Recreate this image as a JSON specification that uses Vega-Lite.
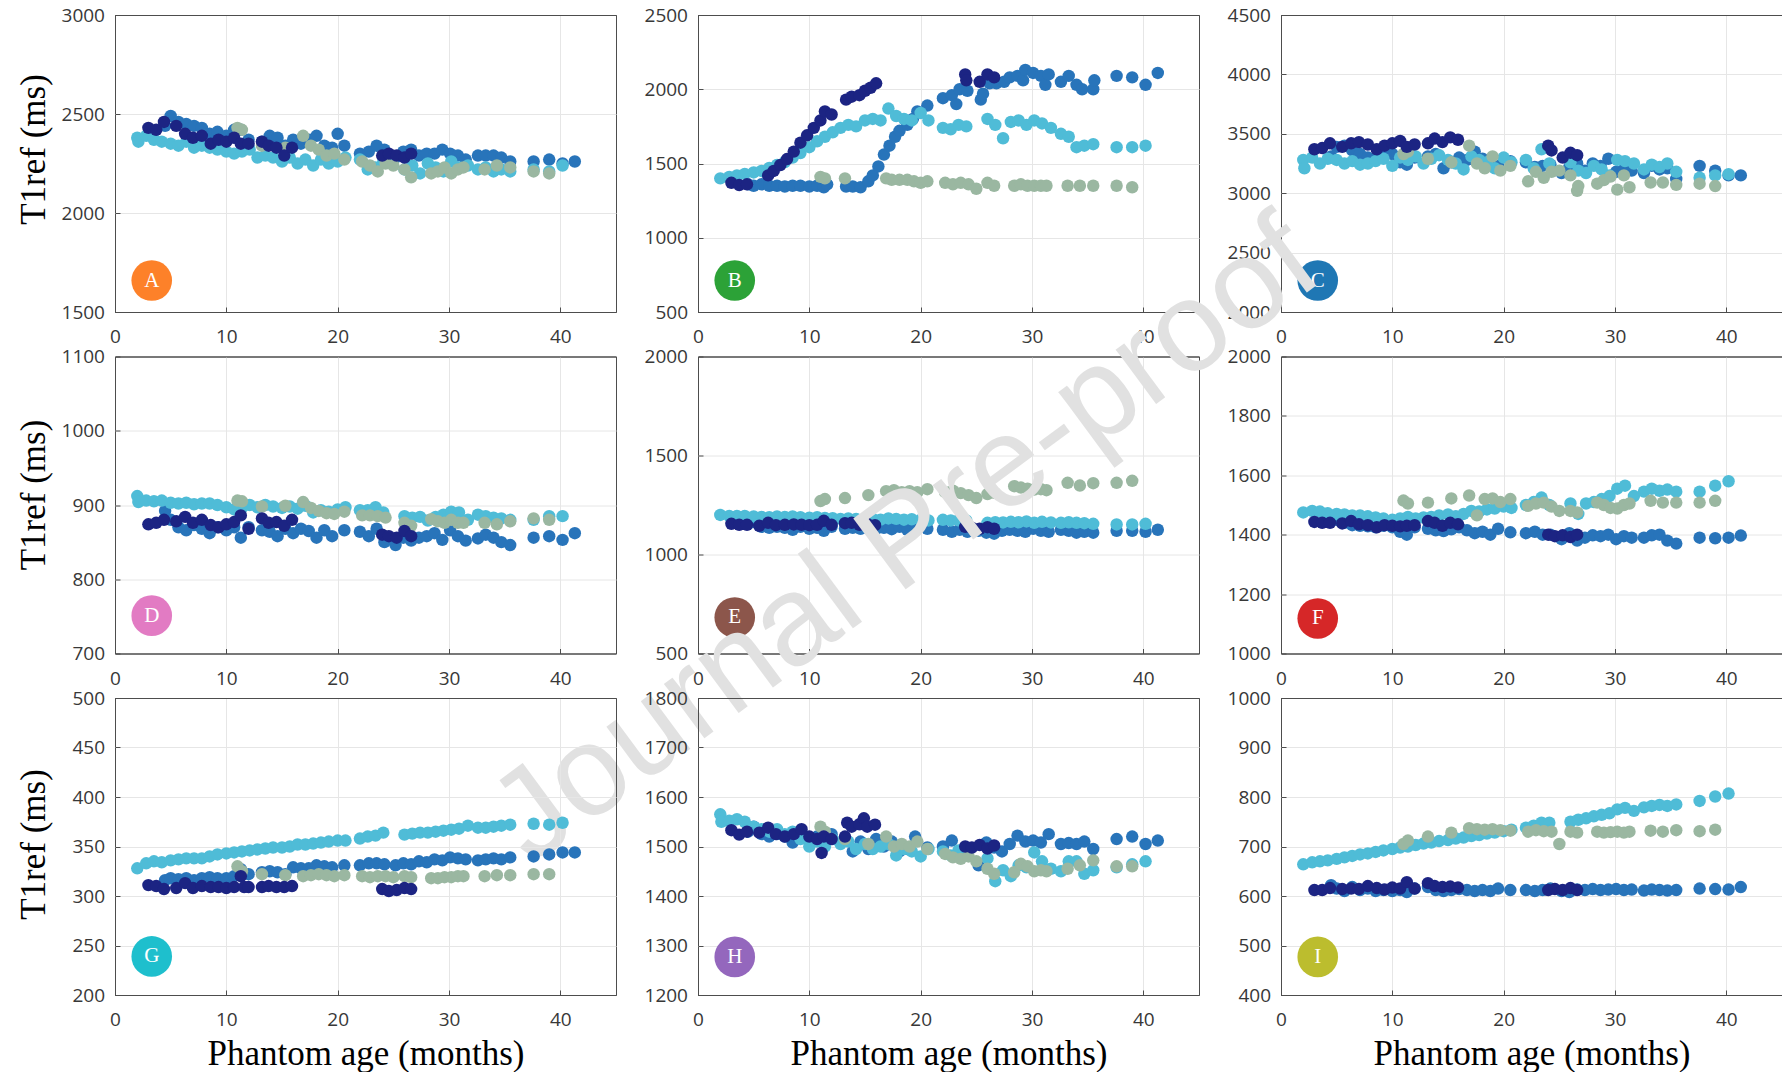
{
"$schema": "https://vega.github.io/schema/vega-lite/v6.json",
"background": "white",
"padding": {"left": 16, "top": 5, "right": 0, "bottom": 0},
"datasets": {
"A": [
{"s":2,"x":4.5,"y":2440},{"s":2,"x":5.0,"y":2490},{"s":2,"x":5.7,"y":2460},{"s":2,"x":6.4,"y":2450},{"s":2,"x":7.1,"y":2440},{"s":2,"x":7.8,"y":2430},{"s":2,"x":8.5,"y":2400},{"s":2,"x":9.2,"y":2410},{"s":2,"x":10.0,"y":2390},{"s":2,"x":10.7,"y":2420},{"s":2,"x":11.3,"y":2420},{"s":2,"x":12.0,"y":2370},{"s":2,"x":13.2,"y":2360},{"s":2,"x":13.9,"y":2390},{"s":2,"x":14.6,"y":2380},{"s":2,"x":15.3,"y":2340},{"s":2,"x":16.0,"y":2370},{"s":2,"x":16.7,"y":2350},{"s":2,"x":17.4,"y":2370},{"s":2,"x":18.1,"y":2390},{"s":2,"x":18.8,"y":2340},{"s":2,"x":19.5,"y":2330},{"s":2,"x":20.0,"y":2400},{"s":2,"x":20.6,"y":2340},{"s":2,"x":22.0,"y":2300},{"s":2,"x":22.8,"y":2310},{"s":2,"x":23.5,"y":2340},{"s":2,"x":24.2,"y":2320},{"s":2,"x":25.2,"y":2280},{"s":2,"x":25.9,"y":2310},{"s":2,"x":26.6,"y":2320},{"s":2,"x":27.3,"y":2290},{"s":2,"x":28.0,"y":2300},{"s":2,"x":28.7,"y":2300},{"s":2,"x":29.4,"y":2320},{"s":2,"x":30.1,"y":2300},{"s":2,"x":30.8,"y":2290},{"s":2,"x":31.5,"y":2270},{"s":2,"x":32.6,"y":2290},{"s":2,"x":33.3,"y":2290},{"s":2,"x":34.0,"y":2290},{"s":2,"x":34.7,"y":2280},{"s":2,"x":35.5,"y":2260},{"s":2,"x":37.6,"y":2260},{"s":2,"x":39.0,"y":2270},{"s":2,"x":40.2,"y":2250},{"s":2,"x":41.3,"y":2260},
{"s":3,"x":2.0,"y":2380},{"s":3,"x":2.1,"y":2360},{"s":3,"x":2.8,"y":2390},{"s":3,"x":3.5,"y":2370},{"s":3,"x":4.2,"y":2360},{"s":3,"x":5.0,"y":2350},{"s":3,"x":5.7,"y":2340},{"s":3,"x":6.4,"y":2360},{"s":3,"x":7.1,"y":2330},{"s":3,"x":7.8,"y":2340},{"s":3,"x":8.5,"y":2330},{"s":3,"x":9.2,"y":2320},{"s":3,"x":10.0,"y":2310},{"s":3,"x":10.7,"y":2300},{"s":3,"x":11.4,"y":2310},{"s":3,"x":12.1,"y":2320},{"s":3,"x":12.8,"y":2280},{"s":3,"x":13.5,"y":2290},{"s":3,"x":14.2,"y":2280},{"s":3,"x":15.0,"y":2260},{"s":3,"x":15.7,"y":2280},{"s":3,"x":16.4,"y":2250},{"s":3,"x":17.1,"y":2270},{"s":3,"x":17.8,"y":2240},{"s":3,"x":18.5,"y":2270},{"s":3,"x":19.2,"y":2250},{"s":3,"x":20.0,"y":2260},{"s":3,"x":20.7,"y":2280},{"s":3,"x":22.0,"y":2270},{"s":3,"x":22.7,"y":2220},{"s":3,"x":23.4,"y":2230},{"s":3,"x":24.1,"y":2260},{"s":3,"x":26.0,"y":2220},{"s":3,"x":26.7,"y":2240},{"s":3,"x":27.4,"y":2200},{"s":3,"x":28.1,"y":2250},{"s":3,"x":28.8,"y":2230},{"s":3,"x":29.5,"y":2210},{"s":3,"x":30.2,"y":2260},{"s":3,"x":30.9,"y":2230},{"s":3,"x":31.7,"y":2240},{"s":3,"x":32.6,"y":2220},{"s":3,"x":33.3,"y":2230},{"s":3,"x":34.0,"y":2210},{"s":3,"x":34.7,"y":2220},{"s":3,"x":35.5,"y":2210},{"s":3,"x":37.6,"y":2220},{"s":3,"x":39.0,"y":2210},{"s":3,"x":40.2,"y":2240},
{"s":4,"x":11.0,"y":2430},{"s":4,"x":11.4,"y":2420},{"s":4,"x":13.2,"y":2340},{"s":4,"x":15.3,"y":2330},{"s":4,"x":16.9,"y":2390},{"s":4,"x":17.6,"y":2340},{"s":4,"x":18.3,"y":2320},{"s":4,"x":19.0,"y":2290},{"s":4,"x":19.7,"y":2300},{"s":4,"x":20.6,"y":2270},{"s":4,"x":22.2,"y":2260},{"s":4,"x":22.9,"y":2240},{"s":4,"x":23.6,"y":2210},{"s":4,"x":24.3,"y":2250},{"s":4,"x":25.0,"y":2240},{"s":4,"x":26.0,"y":2220},{"s":4,"x":26.6,"y":2180},{"s":4,"x":28.4,"y":2200},{"s":4,"x":29.0,"y":2210},{"s":4,"x":29.6,"y":2230},{"s":4,"x":30.2,"y":2200},{"s":4,"x":30.8,"y":2220},{"s":4,"x":31.3,"y":2230},{"s":4,"x":33.2,"y":2220},{"s":4,"x":34.3,"y":2240},{"s":4,"x":35.5,"y":2230},{"s":4,"x":37.6,"y":2210},{"s":4,"x":39.0,"y":2200},
{"s":1,"x":3.0,"y":2430},{"s":1,"x":3.7,"y":2420},{"s":1,"x":4.4,"y":2460},{"s":1,"x":5.5,"y":2440},{"s":1,"x":6.3,"y":2400},{"s":1,"x":7.0,"y":2380},{"s":1,"x":7.8,"y":2390},{"s":1,"x":8.6,"y":2350},{"s":1,"x":9.3,"y":2370},{"s":1,"x":10.0,"y":2360},{"s":1,"x":10.7,"y":2380},{"s":1,"x":11.3,"y":2350},{"s":1,"x":12.0,"y":2350},{"s":1,"x":13.2,"y":2360},{"s":1,"x":13.8,"y":2340},{"s":1,"x":14.5,"y":2330},{"s":1,"x":15.2,"y":2290},{"s":1,"x":15.9,"y":2330},{"s":1,"x":24.0,"y":2290},{"s":1,"x":24.6,"y":2300},{"s":1,"x":25.3,"y":2290},{"s":1,"x":26.0,"y":2280},{"s":1,"x":26.6,"y":2300}
],
"B": [
{"s":2,"x":4.5,"y":1360},{"s":2,"x":5.0,"y":1350},{"s":2,"x":5.7,"y":1360},{"s":2,"x":6.4,"y":1350},{"s":2,"x":7.1,"y":1350},{"s":2,"x":7.8,"y":1345},{"s":2,"x":8.5,"y":1350},{"s":2,"x":9.2,"y":1350},{"s":2,"x":10.0,"y":1345},{"s":2,"x":10.7,"y":1350},{"s":2,"x":11.3,"y":1340},{"s":2,"x":11.6,"y":1360},{"s":2,"x":13.3,"y":1345},{"s":2,"x":13.9,"y":1345},{"s":2,"x":14.6,"y":1340},{"s":2,"x":15.3,"y":1380},{"s":2,"x":15.7,"y":1420},{"s":2,"x":16.2,"y":1480},{"s":2,"x":16.7,"y":1560},{"s":2,"x":17.2,"y":1620},{"s":2,"x":17.7,"y":1680},{"s":2,"x":18.1,"y":1720},{"s":2,"x":18.8,"y":1760},{"s":2,"x":19.3,"y":1800},{"s":2,"x":19.7,"y":1850},{"s":2,"x":20.6,"y":1890},{"s":2,"x":22.0,"y":1940},{"s":2,"x":22.8,"y":1960},{"s":2,"x":23.2,"y":1900},{"s":2,"x":23.5,"y":2000},{"s":2,"x":24.2,"y":1990},{"s":2,"x":25.4,"y":1930},{"s":2,"x":25.6,"y":1970},{"s":2,"x":26.2,"y":2040},{"s":2,"x":26.8,"y":2040},{"s":2,"x":27.5,"y":2050},{"s":2,"x":28.0,"y":2080},{"s":2,"x":28.7,"y":2090},{"s":2,"x":29.2,"y":2060},{"s":2,"x":29.4,"y":2130},{"s":2,"x":30.1,"y":2110},{"s":2,"x":30.8,"y":2090},{"s":2,"x":31.2,"y":2030},{"s":2,"x":31.5,"y":2100},{"s":2,"x":32.6,"y":2050},{"s":2,"x":33.3,"y":2090},{"s":2,"x":34.0,"y":2030},{"s":2,"x":34.5,"y":2000},{"s":2,"x":35.5,"y":2000},{"s":2,"x":35.6,"y":2060},{"s":2,"x":37.6,"y":2090},{"s":2,"x":39.0,"y":2080},{"s":2,"x":40.2,"y":2030},{"s":2,"x":41.3,"y":2110},
{"s":3,"x":2.0,"y":1400},{"s":3,"x":2.8,"y":1410},{"s":3,"x":3.5,"y":1420},{"s":3,"x":4.2,"y":1430},{"s":3,"x":5.0,"y":1440},{"s":3,"x":5.7,"y":1450},{"s":3,"x":6.4,"y":1470},{"s":3,"x":7.1,"y":1490},{"s":3,"x":7.8,"y":1510},{"s":3,"x":8.5,"y":1540},{"s":3,"x":9.2,"y":1570},{"s":3,"x":10.0,"y":1610},{"s":3,"x":10.7,"y":1650},{"s":3,"x":11.4,"y":1680},{"s":3,"x":12.1,"y":1710},{"s":3,"x":12.8,"y":1740},{"s":3,"x":13.5,"y":1760},{"s":3,"x":14.2,"y":1750},{"s":3,"x":15.0,"y":1790},{"s":3,"x":15.7,"y":1800},{"s":3,"x":16.4,"y":1790},{"s":3,"x":17.1,"y":1870},{"s":3,"x":17.8,"y":1820},{"s":3,"x":18.5,"y":1800},{"s":3,"x":19.2,"y":1790},{"s":3,"x":20.0,"y":1840},{"s":3,"x":20.7,"y":1790},{"s":3,"x":22.0,"y":1740},{"s":3,"x":22.7,"y":1730},{"s":3,"x":23.4,"y":1760},{"s":3,"x":24.1,"y":1750},{"s":3,"x":26.0,"y":1800},{"s":3,"x":26.7,"y":1760},{"s":3,"x":27.4,"y":1670},{"s":3,"x":28.1,"y":1780},{"s":3,"x":28.8,"y":1790},{"s":3,"x":29.5,"y":1760},{"s":3,"x":30.2,"y":1790},{"s":3,"x":30.9,"y":1770},{"s":3,"x":31.7,"y":1740},{"s":3,"x":32.6,"y":1700},{"s":3,"x":33.3,"y":1680},{"s":3,"x":34.0,"y":1610},{"s":3,"x":34.7,"y":1620},{"s":3,"x":35.5,"y":1630},{"s":3,"x":37.6,"y":1610},{"s":3,"x":39.0,"y":1610},{"s":3,"x":40.2,"y":1620},
{"s":4,"x":11.0,"y":1410},{"s":4,"x":11.4,"y":1400},{"s":4,"x":13.2,"y":1400},{"s":4,"x":16.9,"y":1400},{"s":4,"x":17.4,"y":1390},{"s":4,"x":18.1,"y":1390},{"s":4,"x":18.8,"y":1390},{"s":4,"x":19.4,"y":1380},{"s":4,"x":20.0,"y":1370},{"s":4,"x":20.6,"y":1380},{"s":4,"x":22.2,"y":1370},{"s":4,"x":22.9,"y":1360},{"s":4,"x":23.6,"y":1370},{"s":4,"x":24.3,"y":1360},{"s":4,"x":25.0,"y":1330},{"s":4,"x":26.0,"y":1370},{"s":4,"x":26.6,"y":1350},{"s":4,"x":28.4,"y":1350},{"s":4,"x":29.0,"y":1360},{"s":4,"x":29.6,"y":1350},{"s":4,"x":30.2,"y":1350},{"s":4,"x":30.8,"y":1350},{"s":4,"x":31.3,"y":1350},{"s":4,"x":33.2,"y":1350},{"s":4,"x":34.3,"y":1350},{"s":4,"x":35.5,"y":1350},{"s":4,"x":37.6,"y":1350},{"s":4,"x":39.0,"y":1340},
{"s":1,"x":3.0,"y":1370},{"s":1,"x":3.7,"y":1355},{"s":1,"x":4.4,"y":1360},{"s":1,"x":6.3,"y":1420},{"s":1,"x":6.8,"y":1450},{"s":1,"x":7.4,"y":1490},{"s":1,"x":8.0,"y":1530},{"s":1,"x":8.6,"y":1580},{"s":1,"x":9.2,"y":1640},{"s":1,"x":9.8,"y":1690},{"s":1,"x":10.4,"y":1740},{"s":1,"x":11.0,"y":1790},{"s":1,"x":11.4,"y":1850},{"s":1,"x":12.0,"y":1830},{"s":1,"x":13.3,"y":1930},{"s":1,"x":13.8,"y":1950},{"s":1,"x":14.5,"y":1960},{"s":1,"x":15.0,"y":1990},{"s":1,"x":15.5,"y":2010},{"s":1,"x":16.0,"y":2040},{"s":1,"x":24.0,"y":2100},{"s":1,"x":24.1,"y":2060},{"s":1,"x":25.3,"y":2050},{"s":1,"x":26.0,"y":2100},{"s":1,"x":26.6,"y":2080}
],
"C": [
{"s":2,"x":4.5,"y":3310},{"s":2,"x":5.0,"y":3390},{"s":2,"x":5.7,"y":3400},{"s":2,"x":6.4,"y":3360},{"s":2,"x":7.1,"y":3330},{"s":2,"x":7.8,"y":3300},{"s":2,"x":8.5,"y":3290},{"s":2,"x":9.2,"y":3340},{"s":2,"x":10.0,"y":3330},{"s":2,"x":10.7,"y":3260},{"s":2,"x":11.3,"y":3240},{"s":2,"x":12.0,"y":3300},{"s":2,"x":13.2,"y":3310},{"s":2,"x":13.9,"y":3330},{"s":2,"x":14.6,"y":3210},{"s":2,"x":15.3,"y":3260},{"s":2,"x":16.0,"y":3300},{"s":2,"x":16.7,"y":3280},{"s":2,"x":17.4,"y":3350},{"s":2,"x":18.1,"y":3290},{"s":2,"x":18.8,"y":3250},{"s":2,"x":19.5,"y":3230},{"s":2,"x":20.6,"y":3270},{"s":2,"x":22.0,"y":3260},{"s":2,"x":22.8,"y":3220},{"s":2,"x":23.5,"y":3230},{"s":2,"x":24.2,"y":3240},{"s":2,"x":25.2,"y":3170},{"s":2,"x":25.9,"y":3220},{"s":2,"x":26.6,"y":3250},{"s":2,"x":27.3,"y":3190},{"s":2,"x":28.0,"y":3250},{"s":2,"x":28.7,"y":3230},{"s":2,"x":29.4,"y":3290},{"s":2,"x":30.1,"y":3180},{"s":2,"x":30.8,"y":3200},{"s":2,"x":31.5,"y":3190},{"s":2,"x":32.6,"y":3170},{"s":2,"x":33.3,"y":3230},{"s":2,"x":34.0,"y":3200},{"s":2,"x":34.7,"y":3210},{"s":2,"x":35.5,"y":3120},{"s":2,"x":37.6,"y":3230},{"s":2,"x":39.0,"y":3190},{"s":2,"x":40.2,"y":3150},{"s":2,"x":41.3,"y":3150},
{"s":3,"x":2.0,"y":3280},{"s":3,"x":2.1,"y":3210},{"s":3,"x":2.8,"y":3300},{"s":3,"x":3.5,"y":3250},{"s":3,"x":4.2,"y":3290},{"s":3,"x":5.0,"y":3280},{"s":3,"x":5.7,"y":3250},{"s":3,"x":6.4,"y":3270},{"s":3,"x":7.1,"y":3240},{"s":3,"x":7.8,"y":3250},{"s":3,"x":8.5,"y":3270},{"s":3,"x":9.2,"y":3290},{"s":3,"x":10.0,"y":3230},{"s":3,"x":10.7,"y":3300},{"s":3,"x":11.4,"y":3280},{"s":3,"x":12.1,"y":3310},{"s":3,"x":12.8,"y":3250},{"s":3,"x":13.5,"y":3290},{"s":3,"x":14.2,"y":3320},{"s":3,"x":15.0,"y":3280},{"s":3,"x":15.7,"y":3250},{"s":3,"x":16.4,"y":3200},{"s":3,"x":17.1,"y":3310},{"s":3,"x":17.8,"y":3280},{"s":3,"x":18.5,"y":3260},{"s":3,"x":19.2,"y":3210},{"s":3,"x":20.0,"y":3300},{"s":3,"x":20.7,"y":3260},{"s":3,"x":22.0,"y":3280},{"s":3,"x":22.7,"y":3210},{"s":3,"x":23.4,"y":3370},{"s":3,"x":24.1,"y":3250},{"s":3,"x":26.0,"y":3260},{"s":3,"x":26.7,"y":3190},{"s":3,"x":27.4,"y":3170},{"s":3,"x":28.1,"y":3230},{"s":3,"x":28.8,"y":3200},{"s":3,"x":29.5,"y":3150},{"s":3,"x":30.2,"y":3280},{"s":3,"x":30.9,"y":3270},{"s":3,"x":31.7,"y":3250},{"s":3,"x":32.6,"y":3200},{"s":3,"x":33.3,"y":3240},{"s":3,"x":34.0,"y":3220},{"s":3,"x":34.7,"y":3250},{"s":3,"x":35.5,"y":3180},{"s":3,"x":37.6,"y":3130},{"s":3,"x":39.0,"y":3150},{"s":3,"x":40.2,"y":3160},
{"s":4,"x":11.0,"y":3330},{"s":4,"x":11.4,"y":3350},{"s":4,"x":13.2,"y":3290},{"s":4,"x":15.3,"y":3260},{"s":4,"x":16.9,"y":3400},{"s":4,"x":17.6,"y":3250},{"s":4,"x":18.3,"y":3210},{"s":4,"x":19.0,"y":3310},{"s":4,"x":19.7,"y":3190},{"s":4,"x":20.6,"y":3230},{"s":4,"x":22.2,"y":3100},{"s":4,"x":22.9,"y":3180},{"s":4,"x":23.6,"y":3130},{"s":4,"x":24.3,"y":3180},{"s":4,"x":25.0,"y":3190},{"s":4,"x":26.0,"y":3150},{"s":4,"x":26.6,"y":3020},{"s":4,"x":26.7,"y":3060},{"s":4,"x":28.4,"y":3080},{"s":4,"x":29.0,"y":3110},{"s":4,"x":29.6,"y":3140},{"s":4,"x":30.2,"y":3030},{"s":4,"x":30.8,"y":3150},{"s":4,"x":31.3,"y":3050},{"s":4,"x":33.2,"y":3090},{"s":4,"x":34.3,"y":3090},{"s":4,"x":35.5,"y":3070},{"s":4,"x":37.6,"y":3080},{"s":4,"x":39.0,"y":3060},
{"s":1,"x":3.0,"y":3370},{"s":1,"x":3.7,"y":3380},{"s":1,"x":4.4,"y":3420},{"s":1,"x":5.5,"y":3390},{"s":1,"x":6.3,"y":3420},{"s":1,"x":7.0,"y":3430},{"s":1,"x":7.8,"y":3410},{"s":1,"x":8.6,"y":3370},{"s":1,"x":9.3,"y":3400},{"s":1,"x":10.0,"y":3420},{"s":1,"x":10.7,"y":3440},{"s":1,"x":11.3,"y":3390},{"s":1,"x":12.0,"y":3410},{"s":1,"x":13.2,"y":3420},{"s":1,"x":13.8,"y":3460},{"s":1,"x":14.5,"y":3430},{"s":1,"x":15.2,"y":3470},{"s":1,"x":15.9,"y":3450},{"s":1,"x":24.0,"y":3400},{"s":1,"x":24.3,"y":3360},{"s":1,"x":25.3,"y":3300},{"s":1,"x":26.0,"y":3340},{"s":1,"x":26.6,"y":3320}
],
"D": [
{"s":2,"x":4.5,"y":892},{"s":2,"x":5.0,"y":880},{"s":2,"x":5.7,"y":870},{"s":2,"x":6.4,"y":866},{"s":2,"x":7.1,"y":873},{"s":2,"x":7.8,"y":868},{"s":2,"x":8.5,"y":862},{"s":2,"x":9.2,"y":870},{"s":2,"x":10.0,"y":866},{"s":2,"x":10.7,"y":870},{"s":2,"x":11.3,"y":856},{"s":2,"x":12.0,"y":870},{"s":2,"x":13.2,"y":866},{"s":2,"x":13.9,"y":864},{"s":2,"x":14.6,"y":858},{"s":2,"x":15.3,"y":868},{"s":2,"x":16.0,"y":862},{"s":2,"x":16.7,"y":868},{"s":2,"x":17.4,"y":865},{"s":2,"x":18.1,"y":856},{"s":2,"x":18.8,"y":866},{"s":2,"x":19.5,"y":858},{"s":2,"x":20.6,"y":866},{"s":2,"x":22.0,"y":864},{"s":2,"x":22.8,"y":858},{"s":2,"x":23.5,"y":868},{"s":2,"x":24.2,"y":850},{"s":2,"x":25.2,"y":846},{"s":2,"x":25.9,"y":856},{"s":2,"x":26.6,"y":852},{"s":2,"x":27.3,"y":856},{"s":2,"x":28.0,"y":858},{"s":2,"x":28.7,"y":862},{"s":2,"x":29.4,"y":853},{"s":2,"x":30.1,"y":866},{"s":2,"x":30.8,"y":858},{"s":2,"x":31.5,"y":852},{"s":2,"x":32.6,"y":855},{"s":2,"x":33.3,"y":860},{"s":2,"x":34.0,"y":856},{"s":2,"x":34.7,"y":850},{"s":2,"x":35.5,"y":846},{"s":2,"x":37.6,"y":856},{"s":2,"x":39.0,"y":858},{"s":2,"x":40.2,"y":853},{"s":2,"x":41.3,"y":862},
{"s":3,"x":2.0,"y":912},{"s":3,"x":2.1,"y":904},{"s":3,"x":2.8,"y":906},{"s":3,"x":3.5,"y":905},{"s":3,"x":4.2,"y":906},{"s":3,"x":5.0,"y":903},{"s":3,"x":5.7,"y":902},{"s":3,"x":6.4,"y":903},{"s":3,"x":7.1,"y":901},{"s":3,"x":7.8,"y":902},{"s":3,"x":8.5,"y":902},{"s":3,"x":9.2,"y":900},{"s":3,"x":10.0,"y":897},{"s":3,"x":10.7,"y":894},{"s":3,"x":11.4,"y":896},{"s":3,"x":12.1,"y":900},{"s":3,"x":12.8,"y":897},{"s":3,"x":13.5,"y":900},{"s":3,"x":14.2,"y":898},{"s":3,"x":15.0,"y":896},{"s":3,"x":15.7,"y":898},{"s":3,"x":16.4,"y":895},{"s":3,"x":17.1,"y":899},{"s":3,"x":17.8,"y":890},{"s":3,"x":18.5,"y":893},{"s":3,"x":19.2,"y":891},{"s":3,"x":20.0,"y":894},{"s":3,"x":20.7,"y":897},{"s":3,"x":22.0,"y":893},{"s":3,"x":22.7,"y":893},{"s":3,"x":23.4,"y":897},{"s":3,"x":24.1,"y":890},{"s":3,"x":26.0,"y":885},{"s":3,"x":26.7,"y":883},{"s":3,"x":27.4,"y":884},{"s":3,"x":28.1,"y":879},{"s":3,"x":28.8,"y":884},{"s":3,"x":29.5,"y":887},{"s":3,"x":30.2,"y":891},{"s":3,"x":30.9,"y":890},{"s":3,"x":31.7,"y":880},{"s":3,"x":32.6,"y":887},{"s":3,"x":33.3,"y":885},{"s":3,"x":34.0,"y":883},{"s":3,"x":34.7,"y":882},{"s":3,"x":35.5,"y":880},{"s":3,"x":37.6,"y":880},{"s":3,"x":39.0,"y":885},{"s":3,"x":40.2,"y":885},
{"s":4,"x":11.0,"y":906},{"s":4,"x":11.4,"y":905},{"s":4,"x":13.2,"y":898},{"s":4,"x":15.3,"y":899},{"s":4,"x":16.9,"y":904},{"s":4,"x":17.6,"y":896},{"s":4,"x":18.3,"y":892},{"s":4,"x":19.0,"y":889},{"s":4,"x":19.7,"y":888},{"s":4,"x":20.6,"y":891},{"s":4,"x":22.2,"y":886},{"s":4,"x":22.9,"y":886},{"s":4,"x":23.6,"y":885},{"s":4,"x":24.3,"y":883},{"s":4,"x":26.0,"y":876},{"s":4,"x":26.6,"y":872},{"s":4,"x":28.4,"y":881},{"s":4,"x":29.0,"y":878},{"s":4,"x":29.6,"y":876},{"s":4,"x":30.2,"y":880},{"s":4,"x":30.8,"y":876},{"s":4,"x":31.3,"y":876},{"s":4,"x":33.2,"y":876},{"s":4,"x":34.3,"y":874},{"s":4,"x":35.5,"y":878},{"s":4,"x":37.6,"y":882},{"s":4,"x":39.0,"y":880},
{"s":1,"x":3.0,"y":874},{"s":1,"x":3.7,"y":876},{"s":1,"x":4.4,"y":880},{"s":1,"x":5.5,"y":878},{"s":1,"x":6.3,"y":884},{"s":1,"x":7.0,"y":876},{"s":1,"x":7.8,"y":880},{"s":1,"x":8.6,"y":873},{"s":1,"x":9.3,"y":870},{"s":1,"x":10.0,"y":874},{"s":1,"x":10.7,"y":877},{"s":1,"x":11.3,"y":886},{"s":1,"x":12.0,"y":868},{"s":1,"x":13.2,"y":882},{"s":1,"x":13.8,"y":876},{"s":1,"x":14.5,"y":877},{"s":1,"x":15.2,"y":872},{"s":1,"x":15.9,"y":880},{"s":1,"x":24.0,"y":860},{"s":1,"x":24.6,"y":858},{"s":1,"x":25.3,"y":856},{"s":1,"x":26.0,"y":865},{"s":1,"x":26.6,"y":858}
],
"E": [
{"s":2,"x":4.5,"y":1155},{"s":2,"x":5.0,"y":1165},{"s":2,"x":5.7,"y":1140},{"s":2,"x":6.4,"y":1135},{"s":2,"x":7.1,"y":1140},{"s":2,"x":7.8,"y":1135},{"s":2,"x":8.5,"y":1125},{"s":2,"x":9.2,"y":1140},{"s":2,"x":10.0,"y":1130},{"s":2,"x":10.7,"y":1135},{"s":2,"x":11.3,"y":1120},{"s":2,"x":12.0,"y":1140},{"s":2,"x":13.2,"y":1130},{"s":2,"x":13.9,"y":1135},{"s":2,"x":14.6,"y":1130},{"s":2,"x":15.3,"y":1140},{"s":2,"x":16.0,"y":1130},{"s":2,"x":16.7,"y":1135},{"s":2,"x":17.4,"y":1128},{"s":2,"x":18.1,"y":1140},{"s":2,"x":18.8,"y":1125},{"s":2,"x":19.5,"y":1135},{"s":2,"x":20.6,"y":1130},{"s":2,"x":22.0,"y":1125},{"s":2,"x":22.8,"y":1115},{"s":2,"x":23.5,"y":1125},{"s":2,"x":24.2,"y":1115},{"s":2,"x":25.2,"y":1120},{"s":2,"x":25.9,"y":1110},{"s":2,"x":26.6,"y":1105},{"s":2,"x":27.3,"y":1120},{"s":2,"x":28.0,"y":1125},{"s":2,"x":28.7,"y":1120},{"s":2,"x":29.4,"y":1115},{"s":2,"x":30.1,"y":1130},{"s":2,"x":30.8,"y":1120},{"s":2,"x":31.5,"y":1115},{"s":2,"x":32.6,"y":1125},{"s":2,"x":33.3,"y":1120},{"s":2,"x":34.0,"y":1110},{"s":2,"x":34.7,"y":1115},{"s":2,"x":35.5,"y":1110},{"s":2,"x":37.6,"y":1120},{"s":2,"x":39.0,"y":1120},{"s":2,"x":40.2,"y":1115},{"s":2,"x":41.3,"y":1125},
{"s":3,"x":2.0,"y":1200},{"s":3,"x":2.8,"y":1195},{"s":3,"x":3.5,"y":1195},{"s":3,"x":4.2,"y":1195},{"s":3,"x":5.0,"y":1192},{"s":3,"x":5.7,"y":1190},{"s":3,"x":6.4,"y":1188},{"s":3,"x":7.1,"y":1192},{"s":3,"x":7.8,"y":1190},{"s":3,"x":8.5,"y":1192},{"s":3,"x":9.2,"y":1188},{"s":3,"x":10.0,"y":1186},{"s":3,"x":10.7,"y":1188},{"s":3,"x":11.4,"y":1185},{"s":3,"x":12.1,"y":1183},{"s":3,"x":12.8,"y":1180},{"s":3,"x":13.5,"y":1182},{"s":3,"x":14.2,"y":1180},{"s":3,"x":15.0,"y":1178},{"s":3,"x":15.7,"y":1180},{"s":3,"x":16.4,"y":1176},{"s":3,"x":17.1,"y":1182},{"s":3,"x":17.8,"y":1180},{"s":3,"x":18.5,"y":1176},{"s":3,"x":19.2,"y":1178},{"s":3,"x":20.0,"y":1175},{"s":3,"x":20.7,"y":1172},{"s":3,"x":22.0,"y":1175},{"s":3,"x":22.7,"y":1172},{"s":3,"x":23.4,"y":1173},{"s":3,"x":24.1,"y":1172},{"s":3,"x":26.0,"y":1160},{"s":3,"x":26.7,"y":1163},{"s":3,"x":27.4,"y":1162},{"s":3,"x":28.1,"y":1165},{"s":3,"x":28.8,"y":1163},{"s":3,"x":29.5,"y":1167},{"s":3,"x":30.2,"y":1160},{"s":3,"x":30.9,"y":1165},{"s":3,"x":31.7,"y":1162},{"s":3,"x":32.6,"y":1160},{"s":3,"x":33.3,"y":1163},{"s":3,"x":34.0,"y":1160},{"s":3,"x":34.7,"y":1158},{"s":3,"x":35.5,"y":1155},{"s":3,"x":37.6,"y":1152},{"s":3,"x":39.0,"y":1152},{"s":3,"x":40.2,"y":1155},
{"s":4,"x":11.0,"y":1270},{"s":4,"x":11.4,"y":1280},{"s":4,"x":13.2,"y":1285},{"s":4,"x":15.3,"y":1300},{"s":4,"x":16.9,"y":1320},{"s":4,"x":17.6,"y":1325},{"s":4,"x":18.3,"y":1315},{"s":4,"x":19.0,"y":1320},{"s":4,"x":19.7,"y":1315},{"s":4,"x":20.6,"y":1330},{"s":4,"x":22.2,"y":1315},{"s":4,"x":22.9,"y":1322},{"s":4,"x":23.6,"y":1310},{"s":4,"x":24.3,"y":1300},{"s":4,"x":25.0,"y":1285},{"s":4,"x":26.0,"y":1305},{"s":4,"x":26.6,"y":1312},{"s":4,"x":28.4,"y":1345},{"s":4,"x":29.0,"y":1338},{"s":4,"x":29.6,"y":1332},{"s":4,"x":30.2,"y":1328},{"s":4,"x":30.8,"y":1330},{"s":4,"x":31.3,"y":1325},{"s":4,"x":33.2,"y":1362},{"s":4,"x":34.3,"y":1348},{"s":4,"x":35.5,"y":1360},{"s":4,"x":37.6,"y":1362},{"s":4,"x":39.0,"y":1372},
{"s":1,"x":3.0,"y":1155},{"s":1,"x":3.7,"y":1150},{"s":1,"x":4.4,"y":1150},{"s":1,"x":5.5,"y":1145},{"s":1,"x":6.3,"y":1160},{"s":1,"x":7.0,"y":1148},{"s":1,"x":7.8,"y":1150},{"s":1,"x":8.6,"y":1152},{"s":1,"x":9.3,"y":1150},{"s":1,"x":10.0,"y":1148},{"s":1,"x":10.7,"y":1150},{"s":1,"x":11.3,"y":1170},{"s":1,"x":12.0,"y":1150},{"s":1,"x":13.2,"y":1158},{"s":1,"x":13.8,"y":1160},{"s":1,"x":14.5,"y":1150},{"s":1,"x":15.2,"y":1155},{"s":1,"x":15.9,"y":1148},{"s":1,"x":24.0,"y":1140},{"s":1,"x":24.6,"y":1135},{"s":1,"x":25.3,"y":1130},{"s":1,"x":26.0,"y":1138},{"s":1,"x":26.6,"y":1130}
],
"F": [
{"s":2,"x":4.5,"y":1455},{"s":2,"x":5.0,"y":1450},{"s":2,"x":5.7,"y":1440},{"s":2,"x":6.4,"y":1432},{"s":2,"x":7.1,"y":1430},{"s":2,"x":7.8,"y":1428},{"s":2,"x":8.5,"y":1425},{"s":2,"x":9.2,"y":1430},{"s":2,"x":10.0,"y":1425},{"s":2,"x":10.7,"y":1410},{"s":2,"x":11.3,"y":1400},{"s":2,"x":12.0,"y":1425},{"s":2,"x":13.2,"y":1420},{"s":2,"x":13.9,"y":1415},{"s":2,"x":14.6,"y":1412},{"s":2,"x":15.3,"y":1418},{"s":2,"x":16.0,"y":1425},{"s":2,"x":16.7,"y":1415},{"s":2,"x":17.4,"y":1405},{"s":2,"x":18.1,"y":1410},{"s":2,"x":18.8,"y":1400},{"s":2,"x":19.5,"y":1420},{"s":2,"x":20.6,"y":1408},{"s":2,"x":22.0,"y":1405},{"s":2,"x":22.8,"y":1410},{"s":2,"x":23.5,"y":1400},{"s":2,"x":24.2,"y":1400},{"s":2,"x":25.2,"y":1385},{"s":2,"x":25.9,"y":1405},{"s":2,"x":26.6,"y":1380},{"s":2,"x":27.3,"y":1390},{"s":2,"x":28.0,"y":1398},{"s":2,"x":28.7,"y":1395},{"s":2,"x":29.4,"y":1400},{"s":2,"x":30.1,"y":1385},{"s":2,"x":30.8,"y":1395},{"s":2,"x":31.5,"y":1390},{"s":2,"x":32.6,"y":1390},{"s":2,"x":33.3,"y":1398},{"s":2,"x":34.0,"y":1400},{"s":2,"x":34.7,"y":1380},{"s":2,"x":35.5,"y":1370},{"s":2,"x":37.6,"y":1390},{"s":2,"x":39.0,"y":1388},{"s":2,"x":40.2,"y":1390},{"s":2,"x":41.3,"y":1397},
{"s":3,"x":2.0,"y":1475},{"s":3,"x":2.8,"y":1480},{"s":3,"x":3.5,"y":1478},{"s":3,"x":4.2,"y":1472},{"s":3,"x":5.0,"y":1470},{"s":3,"x":5.7,"y":1468},{"s":3,"x":6.4,"y":1465},{"s":3,"x":7.1,"y":1465},{"s":3,"x":7.8,"y":1462},{"s":3,"x":8.5,"y":1458},{"s":3,"x":9.2,"y":1455},{"s":3,"x":10.0,"y":1450},{"s":3,"x":10.7,"y":1455},{"s":3,"x":11.4,"y":1460},{"s":3,"x":12.1,"y":1455},{"s":3,"x":12.8,"y":1458},{"s":3,"x":13.5,"y":1460},{"s":3,"x":14.2,"y":1465},{"s":3,"x":15.0,"y":1468},{"s":3,"x":15.7,"y":1462},{"s":3,"x":16.4,"y":1470},{"s":3,"x":17.1,"y":1480},{"s":3,"x":17.8,"y":1478},{"s":3,"x":18.5,"y":1485},{"s":3,"x":19.2,"y":1488},{"s":3,"x":20.0,"y":1495},{"s":3,"x":20.7,"y":1490},{"s":3,"x":22.0,"y":1500},{"s":3,"x":22.7,"y":1510},{"s":3,"x":23.4,"y":1525},{"s":3,"x":24.1,"y":1500},{"s":3,"x":26.0,"y":1505},{"s":3,"x":26.7,"y":1470},{"s":3,"x":27.4,"y":1505},{"s":3,"x":28.1,"y":1510},{"s":3,"x":28.8,"y":1520},{"s":3,"x":29.5,"y":1530},{"s":3,"x":30.2,"y":1555},{"s":3,"x":30.9,"y":1565},{"s":3,"x":31.7,"y":1530},{"s":3,"x":32.6,"y":1545},{"s":3,"x":33.3,"y":1555},{"s":3,"x":34.0,"y":1548},{"s":3,"x":34.7,"y":1552},{"s":3,"x":35.5,"y":1545},{"s":3,"x":37.6,"y":1545},{"s":3,"x":39.0,"y":1565},{"s":3,"x":40.2,"y":1580},
{"s":4,"x":11.0,"y":1515},{"s":4,"x":11.4,"y":1505},{"s":4,"x":13.2,"y":1508},{"s":4,"x":15.3,"y":1522},{"s":4,"x":16.9,"y":1532},{"s":4,"x":17.6,"y":1465},{"s":4,"x":18.3,"y":1520},{"s":4,"x":19.0,"y":1522},{"s":4,"x":19.7,"y":1510},{"s":4,"x":20.6,"y":1520},{"s":4,"x":22.2,"y":1497},{"s":4,"x":22.9,"y":1505},{"s":4,"x":23.6,"y":1508},{"s":4,"x":24.3,"y":1495},{"s":4,"x":25.0,"y":1480},{"s":4,"x":26.0,"y":1480},{"s":4,"x":26.6,"y":1475},{"s":4,"x":28.4,"y":1508},{"s":4,"x":29.0,"y":1500},{"s":4,"x":29.6,"y":1490},{"s":4,"x":30.2,"y":1488},{"s":4,"x":30.8,"y":1500},{"s":4,"x":31.3,"y":1505},{"s":4,"x":33.2,"y":1514},{"s":4,"x":34.3,"y":1508},{"s":4,"x":35.5,"y":1508},{"s":4,"x":37.6,"y":1508},{"s":4,"x":39.0,"y":1514},
{"s":1,"x":3.0,"y":1443},{"s":1,"x":3.7,"y":1440},{"s":1,"x":4.4,"y":1440},{"s":1,"x":5.5,"y":1438},{"s":1,"x":6.3,"y":1446},{"s":1,"x":7.0,"y":1435},{"s":1,"x":7.8,"y":1432},{"s":1,"x":8.6,"y":1425},{"s":1,"x":9.3,"y":1432},{"s":1,"x":10.0,"y":1430},{"s":1,"x":10.7,"y":1428},{"s":1,"x":11.3,"y":1430},{"s":1,"x":12.0,"y":1432},{"s":1,"x":13.2,"y":1446},{"s":1,"x":13.8,"y":1440},{"s":1,"x":14.5,"y":1430},{"s":1,"x":15.2,"y":1440},{"s":1,"x":15.9,"y":1435},{"s":1,"x":24.0,"y":1400},{"s":1,"x":24.6,"y":1395},{"s":1,"x":25.3,"y":1398},{"s":1,"x":26.0,"y":1392},{"s":1,"x":26.6,"y":1400}
],
"G": [
{"s":2,"x":4.5,"y":316},{"s":2,"x":5.0,"y":318},{"s":2,"x":5.7,"y":317},{"s":2,"x":6.4,"y":318},{"s":2,"x":7.1,"y":316},{"s":2,"x":7.8,"y":318},{"s":2,"x":8.5,"y":319},{"s":2,"x":9.2,"y":318},{"s":2,"x":10.0,"y":318},{"s":2,"x":10.7,"y":320},{"s":2,"x":11.3,"y":327},{"s":2,"x":12.0,"y":322},{"s":2,"x":13.2,"y":324},{"s":2,"x":13.9,"y":325},{"s":2,"x":14.6,"y":324},{"s":2,"x":15.3,"y":322},{"s":2,"x":16.0,"y":329},{"s":2,"x":16.7,"y":328},{"s":2,"x":17.4,"y":328},{"s":2,"x":18.1,"y":331},{"s":2,"x":18.8,"y":330},{"s":2,"x":19.5,"y":329},{"s":2,"x":20.6,"y":331},{"s":2,"x":22.0,"y":331},{"s":2,"x":22.8,"y":333},{"s":2,"x":23.5,"y":333},{"s":2,"x":24.2,"y":332},{"s":2,"x":25.2,"y":331},{"s":2,"x":25.9,"y":333},{"s":2,"x":26.6,"y":332},{"s":2,"x":27.3,"y":335},{"s":2,"x":28.0,"y":334},{"s":2,"x":28.7,"y":337},{"s":2,"x":29.4,"y":336},{"s":2,"x":30.1,"y":339},{"s":2,"x":30.8,"y":338},{"s":2,"x":31.5,"y":337},{"s":2,"x":32.6,"y":336},{"s":2,"x":33.3,"y":337},{"s":2,"x":34.0,"y":338},{"s":2,"x":34.7,"y":337},{"s":2,"x":35.5,"y":339},{"s":2,"x":37.6,"y":340},{"s":2,"x":39.0,"y":342},{"s":2,"x":40.2,"y":344},{"s":2,"x":41.3,"y":344},
{"s":3,"x":2.0,"y":328},{"s":3,"x":2.8,"y":333},{"s":3,"x":3.5,"y":335},{"s":3,"x":4.2,"y":334},{"s":3,"x":5.0,"y":336},{"s":3,"x":5.7,"y":337},{"s":3,"x":6.4,"y":338},{"s":3,"x":7.1,"y":338},{"s":3,"x":7.8,"y":338},{"s":3,"x":8.5,"y":340},{"s":3,"x":9.2,"y":342},{"s":3,"x":10.0,"y":343},{"s":3,"x":10.7,"y":344},{"s":3,"x":11.4,"y":345},{"s":3,"x":12.1,"y":346},{"s":3,"x":12.8,"y":347},{"s":3,"x":13.5,"y":348},{"s":3,"x":14.2,"y":349},{"s":3,"x":15.0,"y":349},{"s":3,"x":15.7,"y":350},{"s":3,"x":16.4,"y":352},{"s":3,"x":17.1,"y":352},{"s":3,"x":17.8,"y":353},{"s":3,"x":18.5,"y":354},{"s":3,"x":19.2,"y":355},{"s":3,"x":20.0,"y":356},{"s":3,"x":20.7,"y":356},{"s":3,"x":22.0,"y":358},{"s":3,"x":22.7,"y":360},{"s":3,"x":23.4,"y":361},{"s":3,"x":24.1,"y":364},{"s":3,"x":26.0,"y":362},{"s":3,"x":26.7,"y":363},{"s":3,"x":27.4,"y":364},{"s":3,"x":28.1,"y":364},{"s":3,"x":28.8,"y":365},{"s":3,"x":29.5,"y":366},{"s":3,"x":30.2,"y":367},{"s":3,"x":30.9,"y":368},{"s":3,"x":31.7,"y":371},{"s":3,"x":32.6,"y":369},{"s":3,"x":33.3,"y":369},{"s":3,"x":34.0,"y":370},{"s":3,"x":34.7,"y":371},{"s":3,"x":35.5,"y":372},{"s":3,"x":37.6,"y":373},{"s":3,"x":39.0,"y":372},{"s":3,"x":40.2,"y":374},
{"s":4,"x":11.0,"y":330},{"s":4,"x":11.4,"y":325},{"s":4,"x":13.2,"y":322},{"s":4,"x":15.3,"y":321},{"s":4,"x":16.9,"y":320},{"s":4,"x":17.6,"y":321},{"s":4,"x":18.3,"y":322},{"s":4,"x":19.0,"y":321},{"s":4,"x":19.7,"y":320},{"s":4,"x":20.6,"y":321},{"s":4,"x":22.2,"y":320},{"s":4,"x":22.9,"y":319},{"s":4,"x":23.6,"y":320},{"s":4,"x":24.3,"y":320},{"s":4,"x":25.0,"y":319},{"s":4,"x":26.0,"y":320},{"s":4,"x":26.6,"y":319},{"s":4,"x":28.4,"y":318},{"s":4,"x":29.0,"y":318},{"s":4,"x":29.6,"y":319},{"s":4,"x":30.2,"y":319},{"s":4,"x":30.8,"y":320},{"s":4,"x":31.3,"y":320},{"s":4,"x":33.2,"y":320},{"s":4,"x":34.3,"y":321},{"s":4,"x":35.5,"y":321},{"s":4,"x":37.6,"y":322},{"s":4,"x":39.0,"y":322},
{"s":1,"x":3.0,"y":311},{"s":1,"x":3.7,"y":310},{"s":1,"x":4.4,"y":307},{"s":1,"x":5.5,"y":308},{"s":1,"x":6.3,"y":313},{"s":1,"x":7.0,"y":308},{"s":1,"x":7.8,"y":310},{"s":1,"x":8.6,"y":309},{"s":1,"x":9.3,"y":309},{"s":1,"x":10.0,"y":308},{"s":1,"x":10.7,"y":309},{"s":1,"x":11.3,"y":320},{"s":1,"x":11.6,"y":309},{"s":1,"x":12.0,"y":309},{"s":1,"x":13.2,"y":309},{"s":1,"x":13.8,"y":310},{"s":1,"x":14.5,"y":309},{"s":1,"x":15.2,"y":309},{"s":1,"x":15.9,"y":310},{"s":1,"x":24.0,"y":307},{"s":1,"x":24.6,"y":305},{"s":1,"x":25.3,"y":306},{"s":1,"x":26.0,"y":308},{"s":1,"x":26.6,"y":307}
],
"H": [
{"s":2,"x":4.5,"y":1530},{"s":2,"x":5.0,"y":1540},{"s":2,"x":5.7,"y":1525},{"s":2,"x":6.4,"y":1520},{"s":2,"x":7.1,"y":1525},{"s":2,"x":7.8,"y":1520},{"s":2,"x":8.5,"y":1508},{"s":2,"x":9.2,"y":1518},{"s":2,"x":10.0,"y":1510},{"s":2,"x":10.7,"y":1520},{"s":2,"x":11.3,"y":1510},{"s":2,"x":12.0,"y":1525},{"s":2,"x":13.2,"y":1515},{"s":2,"x":13.9,"y":1490},{"s":2,"x":14.6,"y":1510},{"s":2,"x":15.3,"y":1495},{"s":2,"x":16.0,"y":1515},{"s":2,"x":16.7,"y":1500},{"s":2,"x":17.4,"y":1510},{"s":2,"x":18.1,"y":1490},{"s":2,"x":18.8,"y":1495},{"s":2,"x":19.5,"y":1520},{"s":2,"x":20.6,"y":1498},{"s":2,"x":22.0,"y":1500},{"s":2,"x":22.8,"y":1512},{"s":2,"x":23.5,"y":1490},{"s":2,"x":24.2,"y":1495},{"s":2,"x":25.2,"y":1462},{"s":2,"x":25.9,"y":1508},{"s":2,"x":26.6,"y":1498},{"s":2,"x":27.3,"y":1490},{"s":2,"x":28.0,"y":1505},{"s":2,"x":28.7,"y":1522},{"s":2,"x":29.4,"y":1510},{"s":2,"x":30.1,"y":1512},{"s":2,"x":30.8,"y":1508},{"s":2,"x":31.5,"y":1525},{"s":2,"x":32.6,"y":1505},{"s":2,"x":33.3,"y":1507},{"s":2,"x":34.0,"y":1505},{"s":2,"x":34.7,"y":1510},{"s":2,"x":35.5,"y":1495},{"s":2,"x":37.6,"y":1515},{"s":2,"x":39.0,"y":1520},{"s":2,"x":40.2,"y":1505},{"s":2,"x":41.3,"y":1512},
{"s":3,"x":2.0,"y":1565},{"s":3,"x":2.1,"y":1550},{"s":3,"x":2.8,"y":1552},{"s":3,"x":3.5,"y":1555},{"s":3,"x":4.2,"y":1550},{"s":3,"x":5.0,"y":1540},{"s":3,"x":5.7,"y":1535},{"s":3,"x":6.4,"y":1530},{"s":3,"x":7.1,"y":1535},{"s":3,"x":7.8,"y":1525},{"s":3,"x":8.5,"y":1530},{"s":3,"x":9.2,"y":1515},{"s":3,"x":10.0,"y":1500},{"s":3,"x":10.7,"y":1510},{"s":3,"x":11.4,"y":1500},{"s":3,"x":12.1,"y":1515},{"s":3,"x":12.8,"y":1505},{"s":3,"x":13.5,"y":1510},{"s":3,"x":14.2,"y":1495},{"s":3,"x":15.0,"y":1505},{"s":3,"x":15.7,"y":1495},{"s":3,"x":16.4,"y":1500},{"s":3,"x":17.1,"y":1505},{"s":3,"x":17.8,"y":1482},{"s":3,"x":18.5,"y":1495},{"s":3,"x":19.2,"y":1490},{"s":3,"x":20.0,"y":1480},{"s":3,"x":20.7,"y":1495},{"s":3,"x":22.0,"y":1490},{"s":3,"x":22.7,"y":1482},{"s":3,"x":23.4,"y":1492},{"s":3,"x":24.1,"y":1485},{"s":3,"x":26.0,"y":1476},{"s":3,"x":26.7,"y":1430},{"s":3,"x":27.4,"y":1452},{"s":3,"x":28.1,"y":1440},{"s":3,"x":28.8,"y":1462},{"s":3,"x":29.5,"y":1458},{"s":3,"x":30.2,"y":1488},{"s":3,"x":30.9,"y":1470},{"s":3,"x":31.7,"y":1455},{"s":3,"x":32.6,"y":1450},{"s":3,"x":33.3,"y":1470},{"s":3,"x":34.0,"y":1470},{"s":3,"x":34.7,"y":1445},{"s":3,"x":35.5,"y":1452},{"s":3,"x":37.6,"y":1458},{"s":3,"x":39.0,"y":1464},{"s":3,"x":40.2,"y":1470},
{"s":4,"x":11.0,"y":1540},{"s":4,"x":11.4,"y":1530},{"s":4,"x":13.2,"y":1515},{"s":4,"x":15.3,"y":1505},{"s":4,"x":16.9,"y":1520},{"s":4,"x":17.6,"y":1500},{"s":4,"x":18.3,"y":1505},{"s":4,"x":19.0,"y":1500},{"s":4,"x":19.7,"y":1510},{"s":4,"x":20.6,"y":1495},{"s":4,"x":22.2,"y":1485},{"s":4,"x":22.9,"y":1478},{"s":4,"x":23.6,"y":1475},{"s":4,"x":24.3,"y":1480},{"s":4,"x":25.0,"y":1470},{"s":4,"x":26.0,"y":1455},{"s":4,"x":26.6,"y":1445},{"s":4,"x":28.4,"y":1448},{"s":4,"x":29.0,"y":1465},{"s":4,"x":29.6,"y":1460},{"s":4,"x":30.2,"y":1450},{"s":4,"x":30.8,"y":1452},{"s":4,"x":31.3,"y":1450},{"s":4,"x":33.2,"y":1455},{"s":4,"x":34.3,"y":1462},{"s":4,"x":35.5,"y":1472},{"s":4,"x":37.6,"y":1460},{"s":4,"x":39.0,"y":1460},
{"s":1,"x":3.0,"y":1533},{"s":1,"x":3.7,"y":1524},{"s":1,"x":4.4,"y":1530},{"s":1,"x":5.5,"y":1528},{"s":1,"x":6.3,"y":1538},{"s":1,"x":7.0,"y":1525},{"s":1,"x":7.8,"y":1520},{"s":1,"x":8.6,"y":1525},{"s":1,"x":9.3,"y":1535},{"s":1,"x":10.0,"y":1520},{"s":1,"x":10.7,"y":1515},{"s":1,"x":11.1,"y":1487},{"s":1,"x":11.3,"y":1520},{"s":1,"x":12.0,"y":1515},{"s":1,"x":13.2,"y":1520},{"s":1,"x":13.4,"y":1548},{"s":1,"x":13.8,"y":1540},{"s":1,"x":14.5,"y":1545},{"s":1,"x":14.9,"y":1557},{"s":1,"x":15.2,"y":1540},{"s":1,"x":15.9,"y":1544},{"s":1,"x":24.0,"y":1500},{"s":1,"x":24.6,"y":1498},{"s":1,"x":25.3,"y":1503},{"s":1,"x":26.0,"y":1496},{"s":1,"x":26.6,"y":1502}
],
"I": [
{"s":2,"x":4.5,"y":622},{"s":2,"x":5.0,"y":615},{"s":2,"x":5.7,"y":610},{"s":2,"x":6.4,"y":618},{"s":2,"x":7.1,"y":612},{"s":2,"x":7.8,"y":615},{"s":2,"x":8.5,"y":610},{"s":2,"x":9.2,"y":612},{"s":2,"x":10.0,"y":610},{"s":2,"x":10.7,"y":612},{"s":2,"x":11.3,"y":608},{"s":2,"x":12.0,"y":615},{"s":2,"x":13.2,"y":618},{"s":2,"x":13.9,"y":612},{"s":2,"x":14.6,"y":610},{"s":2,"x":15.3,"y":612},{"s":2,"x":16.0,"y":614},{"s":2,"x":16.7,"y":612},{"s":2,"x":17.4,"y":610},{"s":2,"x":18.1,"y":612},{"s":2,"x":18.8,"y":610},{"s":2,"x":19.5,"y":615},{"s":2,"x":20.6,"y":612},{"s":2,"x":22.0,"y":612},{"s":2,"x":22.8,"y":610},{"s":2,"x":23.5,"y":612},{"s":2,"x":24.2,"y":615},{"s":2,"x":25.2,"y":610},{"s":2,"x":25.9,"y":608},{"s":2,"x":26.6,"y":613},{"s":2,"x":27.3,"y":612},{"s":2,"x":28.0,"y":614},{"s":2,"x":28.7,"y":612},{"s":2,"x":29.4,"y":613},{"s":2,"x":30.1,"y":614},{"s":2,"x":30.8,"y":612},{"s":2,"x":31.5,"y":613},{"s":2,"x":32.6,"y":611},{"s":2,"x":33.3,"y":613},{"s":2,"x":34.0,"y":612},{"s":2,"x":34.7,"y":611},{"s":2,"x":35.5,"y":612},{"s":2,"x":37.6,"y":615},{"s":2,"x":39.0,"y":614},{"s":2,"x":40.2,"y":613},{"s":2,"x":41.3,"y":618},
{"s":3,"x":2.0,"y":664},{"s":3,"x":2.8,"y":668},{"s":3,"x":3.5,"y":670},{"s":3,"x":4.2,"y":672},{"s":3,"x":5.0,"y":675},{"s":3,"x":5.7,"y":678},{"s":3,"x":6.4,"y":681},{"s":3,"x":7.1,"y":684},{"s":3,"x":7.8,"y":686},{"s":3,"x":8.5,"y":689},{"s":3,"x":9.2,"y":692},{"s":3,"x":10.0,"y":695},{"s":3,"x":10.7,"y":698},{"s":3,"x":11.4,"y":700},{"s":3,"x":12.1,"y":703},{"s":3,"x":12.8,"y":706},{"s":3,"x":13.5,"y":708},{"s":3,"x":14.2,"y":711},{"s":3,"x":15.0,"y":713},{"s":3,"x":15.7,"y":716},{"s":3,"x":16.4,"y":718},{"s":3,"x":17.1,"y":721},{"s":3,"x":17.8,"y":723},{"s":3,"x":18.5,"y":726},{"s":3,"x":19.2,"y":728},{"s":3,"x":20.0,"y":731},{"s":3,"x":20.7,"y":734},{"s":3,"x":22.0,"y":738},{"s":3,"x":22.7,"y":742},{"s":3,"x":23.4,"y":748},{"s":3,"x":24.1,"y":748},{"s":3,"x":26.0,"y":750},{"s":3,"x":26.7,"y":754},{"s":3,"x":27.4,"y":757},{"s":3,"x":28.1,"y":761},{"s":3,"x":28.8,"y":764},{"s":3,"x":29.5,"y":767},{"s":3,"x":30.2,"y":775},{"s":3,"x":30.9,"y":778},{"s":3,"x":31.7,"y":772},{"s":3,"x":32.6,"y":779},{"s":3,"x":33.3,"y":782},{"s":3,"x":34.0,"y":784},{"s":3,"x":34.7,"y":782},{"s":3,"x":35.5,"y":785},{"s":3,"x":37.6,"y":792},{"s":3,"x":39.0,"y":801},{"s":3,"x":40.2,"y":807},
{"s":4,"x":11.0,"y":705},{"s":4,"x":11.4,"y":712},{"s":4,"x":13.2,"y":720},{"s":4,"x":15.3,"y":728},{"s":4,"x":16.9,"y":737},{"s":4,"x":17.6,"y":735},{"s":4,"x":18.3,"y":734},{"s":4,"x":19.0,"y":735},{"s":4,"x":19.7,"y":733},{"s":4,"x":20.6,"y":732},{"s":4,"x":22.2,"y":730},{"s":4,"x":22.9,"y":733},{"s":4,"x":23.6,"y":731},{"s":4,"x":24.3,"y":730},{"s":4,"x":25.0,"y":705},{"s":4,"x":26.0,"y":730},{"s":4,"x":26.6,"y":728},{"s":4,"x":28.4,"y":730},{"s":4,"x":29.0,"y":728},{"s":4,"x":29.6,"y":729},{"s":4,"x":30.2,"y":730},{"s":4,"x":30.8,"y":728},{"s":4,"x":31.3,"y":730},{"s":4,"x":33.2,"y":732},{"s":4,"x":34.3,"y":730},{"s":4,"x":35.5,"y":733},{"s":4,"x":37.6,"y":731},{"s":4,"x":39.0,"y":734},
{"s":1,"x":3.0,"y":612},{"s":1,"x":3.7,"y":612},{"s":1,"x":4.4,"y":616},{"s":1,"x":5.5,"y":614},{"s":1,"x":6.3,"y":615},{"s":1,"x":7.0,"y":614},{"s":1,"x":7.8,"y":620},{"s":1,"x":8.6,"y":616},{"s":1,"x":9.3,"y":613},{"s":1,"x":10.0,"y":617},{"s":1,"x":10.7,"y":615},{"s":1,"x":11.3,"y":628},{"s":1,"x":12.0,"y":615},{"s":1,"x":13.2,"y":626},{"s":1,"x":13.8,"y":620},{"s":1,"x":14.5,"y":618},{"s":1,"x":15.2,"y":619},{"s":1,"x":15.9,"y":617},{"s":1,"x":24.0,"y":612},{"s":1,"x":24.6,"y":614},{"s":1,"x":25.3,"y":612},{"s":1,"x":26.0,"y":616},{"s":1,"x":26.6,"y":612}
],
"labels": [
{"panel":"A","x":3.3,"y":1659},{"panel":"B","x":3.3,"y":712},{"panel":"C","x":3.3,"y":2265},{"panel":"D","x":3.3,"y":751},{"panel":"E","x":3.3,"y":682},{"panel":"F","x":3.3,"y":1118},{"panel":"G","x":3.3,"y":239},{"panel":"H","x":3.3,"y":1277},{"panel":"I","x":3.3,"y":477}
],
"watermark": [{"text":"Journal Pre-proof","x":18.7,"y":1065}]
},
"columns": 3,
"spacing": {"row": 44.5, "column": 82},
"bounds": "flush",
"resolve": {"scale": {"x": "independent", "y": "independent"}},
"concat": [
{"width":501,"height":297,"layer":[
 {"data":{"name":"A"},"mark":{"type":"circle","size":155,"opacity":1},"encoding":{"x":{"field":"x","type":"quantitative","scale":{"domain":[0,45],"nice":false},"axis":{"values":[0,10,20,30,40],"title":null,"gridColor":{"condition":{"test":"datum.value === 0","value":"#4d4d4d"},"value":"#e6e6e6"}}},"y":{"field":"y","type":"quantitative","scale":{"domain":[1500,3000],"nice":false,"zero":false},"axis":{"values":[1500,2000,2500,3000],"format":"d","title":"T1ref (ms)","titleY":134,"gridColor":{"condition":{"test":"datum.value === 1500 || datum.value === 3000","value":"#4d4d4d"},"value":"#e6e6e6"}}},"color":{"field":"s","type":"nominal","scale":{"domain":[1,2,3,4],"range":["#1c2483","#2874ba","#4fbcd7","#9ab7a1"]},"legend":null}}},
 {"data":{"name":"labels"},"transform":[{"filter":"datum.panel === 'A'"}],"mark":{"type":"circle","size":1650,"opacity":1},"encoding":{"x":{"field":"x","type":"quantitative"},"y":{"field":"y","type":"quantitative"},"fill":{"field":"panel","type":"nominal","scale":{"domain":["A","B","C","D","E","F","G","H","I"],"range":["#fd8129","#2ca237","#1f77b4","#e27bc3","#8c564b","#d62728","#1ebfcd","#9467bd","#bcbd2e"]},"legend":null}}},
 {"data":{"name":"labels"},"transform":[{"filter":"datum.panel === 'A'"}],"mark":{"type":"text","font":"Liberation Serif","fontSize":21,"fill":"#ffffff","align":"center","baseline":"middle"},"encoding":{"x":{"field":"x","type":"quantitative"},"y":{"field":"y","type":"quantitative"},"text":{"field":"panel"}}}
]},
{"width":501,"height":297,"layer":[
 {"data":{"name":"B"},"mark":{"type":"circle","size":155,"opacity":1},"encoding":{"x":{"field":"x","type":"quantitative","scale":{"domain":[0,45],"nice":false},"axis":{"values":[0,10,20,30,40],"title":null,"gridColor":{"condition":{"test":"datum.value === 0","value":"#4d4d4d"},"value":"#e6e6e6"}}},"y":{"field":"y","type":"quantitative","scale":{"domain":[500,2500],"nice":false,"zero":false},"axis":{"values":[500,1000,1500,2000,2500],"format":"d","title":null,"gridColor":{"condition":{"test":"datum.value === 500 || datum.value === 2500","value":"#4d4d4d"},"value":"#e6e6e6"}}},"color":{"field":"s","type":"nominal","scale":{"domain":[1,2,3,4],"range":["#1c2483","#2874ba","#4fbcd7","#9ab7a1"]},"legend":null}}},
 {"data":{"name":"labels"},"transform":[{"filter":"datum.panel === 'B'"}],"mark":{"type":"circle","size":1650,"opacity":1},"encoding":{"x":{"field":"x","type":"quantitative"},"y":{"field":"y","type":"quantitative"},"fill":{"field":"panel","type":"nominal","scale":{"domain":["A","B","C","D","E","F","G","H","I"],"range":["#fd8129","#2ca237","#1f77b4","#e27bc3","#8c564b","#d62728","#1ebfcd","#9467bd","#bcbd2e"]},"legend":null}}},
 {"data":{"name":"labels"},"transform":[{"filter":"datum.panel === 'B'"}],"mark":{"type":"text","font":"Liberation Serif","fontSize":21,"fill":"#ffffff","align":"center","baseline":"middle"},"encoding":{"x":{"field":"x","type":"quantitative"},"y":{"field":"y","type":"quantitative"},"text":{"field":"panel"}}}
]},
{"width":501,"height":297,"layer":[
 {"data":{"name":"C"},"mark":{"type":"circle","size":155,"opacity":1},"encoding":{"x":{"field":"x","type":"quantitative","scale":{"domain":[0,45],"nice":false},"axis":{"values":[0,10,20,30,40],"title":null,"gridColor":{"condition":{"test":"datum.value === 0","value":"#4d4d4d"},"value":"#e6e6e6"}}},"y":{"field":"y","type":"quantitative","scale":{"domain":[2000,4500],"nice":false,"zero":false},"axis":{"values":[2000,2500,3000,3500,4000,4500],"format":"d","title":null,"gridColor":{"condition":{"test":"datum.value === 2000 || datum.value === 4500","value":"#4d4d4d"},"value":"#e6e6e6"}}},"color":{"field":"s","type":"nominal","scale":{"domain":[1,2,3,4],"range":["#1c2483","#2874ba","#4fbcd7","#9ab7a1"]},"legend":null}}},
 {"data":{"name":"labels"},"transform":[{"filter":"datum.panel === 'C'"}],"mark":{"type":"circle","size":1650,"opacity":1},"encoding":{"x":{"field":"x","type":"quantitative"},"y":{"field":"y","type":"quantitative"},"fill":{"field":"panel","type":"nominal","scale":{"domain":["A","B","C","D","E","F","G","H","I"],"range":["#fd8129","#2ca237","#1f77b4","#e27bc3","#8c564b","#d62728","#1ebfcd","#9467bd","#bcbd2e"]},"legend":null}}},
 {"data":{"name":"labels"},"transform":[{"filter":"datum.panel === 'C'"}],"mark":{"type":"text","font":"Liberation Serif","fontSize":21,"fill":"#ffffff","align":"center","baseline":"middle"},"encoding":{"x":{"field":"x","type":"quantitative"},"y":{"field":"y","type":"quantitative"},"text":{"field":"panel"}}}
]},
{"width":501,"height":297,"layer":[
 {"data":{"name":"D"},"mark":{"type":"circle","size":155,"opacity":1},"encoding":{"x":{"field":"x","type":"quantitative","scale":{"domain":[0,45],"nice":false},"axis":{"values":[0,10,20,30,40],"title":null,"gridColor":{"condition":{"test":"datum.value === 0","value":"#4d4d4d"},"value":"#e6e6e6"}}},"y":{"field":"y","type":"quantitative","scale":{"domain":[700,1100],"nice":false,"zero":false},"axis":{"values":[700,800,900,1000,1100],"format":"d","title":"T1ref (ms)","titleY":138,"gridColor":{"condition":{"test":"datum.value === 700 || datum.value === 1100","value":"#4d4d4d"},"value":"#e6e6e6"}}},"color":{"field":"s","type":"nominal","scale":{"domain":[1,2,3,4],"range":["#1c2483","#2874ba","#4fbcd7","#9ab7a1"]},"legend":null}}},
 {"data":{"name":"labels"},"transform":[{"filter":"datum.panel === 'D'"}],"mark":{"type":"circle","size":1650,"opacity":1},"encoding":{"x":{"field":"x","type":"quantitative"},"y":{"field":"y","type":"quantitative"},"fill":{"field":"panel","type":"nominal","scale":{"domain":["A","B","C","D","E","F","G","H","I"],"range":["#fd8129","#2ca237","#1f77b4","#e27bc3","#8c564b","#d62728","#1ebfcd","#9467bd","#bcbd2e"]},"legend":null}}},
 {"data":{"name":"labels"},"transform":[{"filter":"datum.panel === 'D'"}],"mark":{"type":"text","font":"Liberation Serif","fontSize":21,"fill":"#ffffff","align":"center","baseline":"middle"},"encoding":{"x":{"field":"x","type":"quantitative"},"y":{"field":"y","type":"quantitative"},"text":{"field":"panel"}}}
]},
{"width":501,"height":297,"layer":[
 {"data":{"name":"E"},"mark":{"type":"circle","size":155,"opacity":1},"encoding":{"x":{"field":"x","type":"quantitative","scale":{"domain":[0,45],"nice":false},"axis":{"values":[0,10,20,30,40],"title":null,"gridColor":{"condition":{"test":"datum.value === 0","value":"#4d4d4d"},"value":"#e6e6e6"}}},"y":{"field":"y","type":"quantitative","scale":{"domain":[500,2000],"nice":false,"zero":false},"axis":{"values":[500,1000,1500,2000],"format":"d","title":null,"gridColor":{"condition":{"test":"datum.value === 500 || datum.value === 2000","value":"#4d4d4d"},"value":"#e6e6e6"}}},"color":{"field":"s","type":"nominal","scale":{"domain":[1,2,3,4],"range":["#1c2483","#2874ba","#4fbcd7","#9ab7a1"]},"legend":null}}},
 {"data":{"name":"labels"},"transform":[{"filter":"datum.panel === 'E'"}],"mark":{"type":"circle","size":1650,"opacity":1},"encoding":{"x":{"field":"x","type":"quantitative"},"y":{"field":"y","type":"quantitative"},"fill":{"field":"panel","type":"nominal","scale":{"domain":["A","B","C","D","E","F","G","H","I"],"range":["#fd8129","#2ca237","#1f77b4","#e27bc3","#8c564b","#d62728","#1ebfcd","#9467bd","#bcbd2e"]},"legend":null}}},
 {"data":{"name":"labels"},"transform":[{"filter":"datum.panel === 'E'"}],"mark":{"type":"text","font":"Liberation Serif","fontSize":21,"fill":"#ffffff","align":"center","baseline":"middle"},"encoding":{"x":{"field":"x","type":"quantitative"},"y":{"field":"y","type":"quantitative"},"text":{"field":"panel"}}},
 {"data":{"name":"watermark"},"mark":{"type":"text","font":"Liberation Sans","fontSize":128,"angle":323.5,"fill":"#e1e1e1","align":"center","baseline":"middle"},"encoding":{"x":{"field":"x","type":"quantitative"},"y":{"field":"y","type":"quantitative"},"text":{"field":"text"}}}
]},
{"width":501,"height":297,"layer":[
 {"data":{"name":"F"},"mark":{"type":"circle","size":155,"opacity":1},"encoding":{"x":{"field":"x","type":"quantitative","scale":{"domain":[0,45],"nice":false},"axis":{"values":[0,10,20,30,40],"title":null,"gridColor":{"condition":{"test":"datum.value === 0","value":"#4d4d4d"},"value":"#e6e6e6"}}},"y":{"field":"y","type":"quantitative","scale":{"domain":[1000,2000],"nice":false,"zero":false},"axis":{"values":[1000,1200,1400,1600,1800,2000],"format":"d","title":null,"gridColor":{"condition":{"test":"datum.value === 1000 || datum.value === 2000","value":"#4d4d4d"},"value":"#e6e6e6"}}},"color":{"field":"s","type":"nominal","scale":{"domain":[1,2,3,4],"range":["#1c2483","#2874ba","#4fbcd7","#9ab7a1"]},"legend":null}}},
 {"data":{"name":"labels"},"transform":[{"filter":"datum.panel === 'F'"}],"mark":{"type":"circle","size":1650,"opacity":1},"encoding":{"x":{"field":"x","type":"quantitative"},"y":{"field":"y","type":"quantitative"},"fill":{"field":"panel","type":"nominal","scale":{"domain":["A","B","C","D","E","F","G","H","I"],"range":["#fd8129","#2ca237","#1f77b4","#e27bc3","#8c564b","#d62728","#1ebfcd","#9467bd","#bcbd2e"]},"legend":null}}},
 {"data":{"name":"labels"},"transform":[{"filter":"datum.panel === 'F'"}],"mark":{"type":"text","font":"Liberation Serif","fontSize":21,"fill":"#ffffff","align":"center","baseline":"middle"},"encoding":{"x":{"field":"x","type":"quantitative"},"y":{"field":"y","type":"quantitative"},"text":{"field":"panel"}}}
]},
{"width":501,"height":297,"layer":[
 {"data":{"name":"G"},"mark":{"type":"circle","size":155,"opacity":1},"encoding":{"x":{"field":"x","type":"quantitative","scale":{"domain":[0,45],"nice":false},"axis":{"values":[0,10,20,30,40],"title":"Phantom age (months)","gridColor":{"condition":{"test":"datum.value === 0","value":"#4d4d4d"},"value":"#e6e6e6"}}},"y":{"field":"y","type":"quantitative","scale":{"domain":[200,500],"nice":false,"zero":false},"axis":{"values":[200,250,300,350,400,450,500],"format":"d","title":"T1ref (ms)","titleY":146,"gridColor":{"condition":{"test":"datum.value === 200 || datum.value === 500","value":"#4d4d4d"},"value":"#e6e6e6"}}},"color":{"field":"s","type":"nominal","scale":{"domain":[1,2,3,4],"range":["#1c2483","#2874ba","#4fbcd7","#9ab7a1"]},"legend":null}}},
 {"data":{"name":"labels"},"transform":[{"filter":"datum.panel === 'G'"}],"mark":{"type":"circle","size":1650,"opacity":1},"encoding":{"x":{"field":"x","type":"quantitative"},"y":{"field":"y","type":"quantitative"},"fill":{"field":"panel","type":"nominal","scale":{"domain":["A","B","C","D","E","F","G","H","I"],"range":["#fd8129","#2ca237","#1f77b4","#e27bc3","#8c564b","#d62728","#1ebfcd","#9467bd","#bcbd2e"]},"legend":null}}},
 {"data":{"name":"labels"},"transform":[{"filter":"datum.panel === 'G'"}],"mark":{"type":"text","font":"Liberation Serif","fontSize":21,"fill":"#ffffff","align":"center","baseline":"middle"},"encoding":{"x":{"field":"x","type":"quantitative"},"y":{"field":"y","type":"quantitative"},"text":{"field":"panel"}}}
]},
{"width":501,"height":297,"layer":[
 {"data":{"name":"H"},"mark":{"type":"circle","size":155,"opacity":1},"encoding":{"x":{"field":"x","type":"quantitative","scale":{"domain":[0,45],"nice":false},"axis":{"values":[0,10,20,30,40],"title":"Phantom age (months)","gridColor":{"condition":{"test":"datum.value === 0","value":"#4d4d4d"},"value":"#e6e6e6"}}},"y":{"field":"y","type":"quantitative","scale":{"domain":[1200,1800],"nice":false,"zero":false},"axis":{"values":[1200,1300,1400,1500,1600,1700,1800],"format":"d","title":null,"gridColor":{"condition":{"test":"datum.value === 1200 || datum.value === 1800","value":"#4d4d4d"},"value":"#e6e6e6"}}},"color":{"field":"s","type":"nominal","scale":{"domain":[1,2,3,4],"range":["#1c2483","#2874ba","#4fbcd7","#9ab7a1"]},"legend":null}}},
 {"data":{"name":"labels"},"transform":[{"filter":"datum.panel === 'H'"}],"mark":{"type":"circle","size":1650,"opacity":1},"encoding":{"x":{"field":"x","type":"quantitative"},"y":{"field":"y","type":"quantitative"},"fill":{"field":"panel","type":"nominal","scale":{"domain":["A","B","C","D","E","F","G","H","I"],"range":["#fd8129","#2ca237","#1f77b4","#e27bc3","#8c564b","#d62728","#1ebfcd","#9467bd","#bcbd2e"]},"legend":null}}},
 {"data":{"name":"labels"},"transform":[{"filter":"datum.panel === 'H'"}],"mark":{"type":"text","font":"Liberation Serif","fontSize":21,"fill":"#ffffff","align":"center","baseline":"middle"},"encoding":{"x":{"field":"x","type":"quantitative"},"y":{"field":"y","type":"quantitative"},"text":{"field":"panel"}}}
]},
{"width":501,"height":297,"layer":[
 {"data":{"name":"I"},"mark":{"type":"circle","size":155,"opacity":1},"encoding":{"x":{"field":"x","type":"quantitative","scale":{"domain":[0,45],"nice":false},"axis":{"values":[0,10,20,30,40],"title":"Phantom age (months)","gridColor":{"condition":{"test":"datum.value === 0","value":"#4d4d4d"},"value":"#e6e6e6"}}},"y":{"field":"y","type":"quantitative","scale":{"domain":[400,1000],"nice":false,"zero":false},"axis":{"values":[400,500,600,700,800,900,1000],"format":"d","title":null,"gridColor":{"condition":{"test":"datum.value === 400 || datum.value === 1000","value":"#4d4d4d"},"value":"#e6e6e6"}}},"color":{"field":"s","type":"nominal","scale":{"domain":[1,2,3,4],"range":["#1c2483","#2874ba","#4fbcd7","#9ab7a1"]},"legend":null}}},
 {"data":{"name":"labels"},"transform":[{"filter":"datum.panel === 'I'"}],"mark":{"type":"circle","size":1650,"opacity":1},"encoding":{"x":{"field":"x","type":"quantitative"},"y":{"field":"y","type":"quantitative"},"fill":{"field":"panel","type":"nominal","scale":{"domain":["A","B","C","D","E","F","G","H","I"],"range":["#fd8129","#2ca237","#1f77b4","#e27bc3","#8c564b","#d62728","#1ebfcd","#9467bd","#bcbd2e"]},"legend":null}}},
 {"data":{"name":"labels"},"transform":[{"filter":"datum.panel === 'I'"}],"mark":{"type":"text","font":"Liberation Serif","fontSize":21,"fill":"#ffffff","align":"center","baseline":"middle"},"encoding":{"x":{"field":"x","type":"quantitative"},"y":{"field":"y","type":"quantitative"},"text":{"field":"panel"}}}
]}
],
"config": {
 "view": {"stroke": "#4d4d4d", "strokeWidth": 1},
 "axis": {"grid": true, "gridColor": "#e6e6e6", "gridWidth": 1, "domain": false, "ticks": true, "tickSize": -5, "tickColor": "#4d4d4d", "labelFont": "Open Sans", "labelFontSize": 19, "labelColor": "#383838", "labelFlush": false, "labelOverlap": false, "titleFont": "Liberation Serif", "titleFontSize": 35, "titleFontWeight": "normal", "titleColor": "#000000"},
 "axisX": {"labelPadding": 20.5, "titlePadding": 6.5},
 "axisY": {"labelPadding": 15.5, "titlePadding": 7.5, "minExtent": 56}
}
}
